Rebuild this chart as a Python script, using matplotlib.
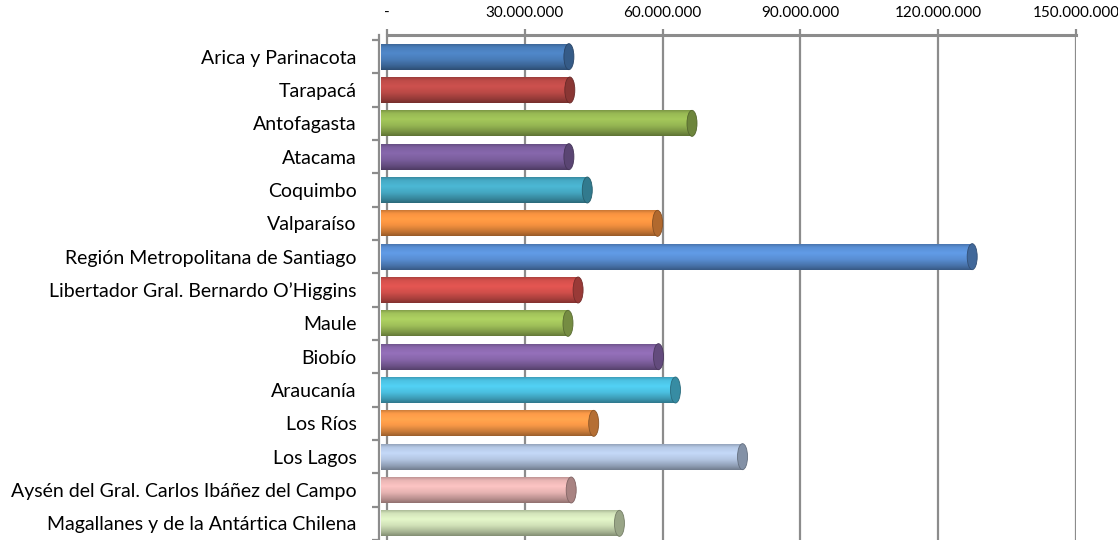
import matplotlib
matplotlib.use('Agg')
import matplotlib.pyplot as plt
import numpy as np
from matplotlib.colors import to_rgb
from matplotlib.patches import Ellipse
from matplotlib.ticker import FixedLocator, FuncFormatter

plt.rcParams['font.family'] = ['Lato', 'DejaVu Sans']

regions = ['Arica y Parinacota', 'Tarapacá', 'Antofagasta', 'Atacama', 'Coquimbo',
           'Valparaíso', 'Región Metropolitana de Santiago',
           'Libertador Gral. Bernardo O\u2019Higgins', 'Maule', 'Biobío', 'Araucanía',
           'Los Ríos', 'Los Lagos', 'Aysén del Gral. Carlos Ibáñez del Campo',
           'Magallanes y de la Antártica Chilena']
values = [39.6e6, 39.8e6, 66.4e6, 39.6e6, 43.6e6, 58.9e6, 127.4e6, 41.6e6,
          39.4e6, 59.1e6, 62.8e6, 45.0e6, 77.4e6, 40.1e6, 50.6e6]
colors = ['#4a7ebb', '#be4b48', '#98b954', '#7d60a0', '#46aac5', '#f69240',
          '#5a90d6', '#d4504c', '#a2c35b', '#8a68ad', '#4cc2e3', '#fb9a48',
          '#b6c9e6', '#eab6b5', '#d4e5bb']
xticks = [0, 30e6, 60e6, 90e6, 120e6, 150e6]

W, H = 1118, 540
fig = plt.figure(figsize=(W / 100, H / 100), dpi=100)
ax = fig.add_axes([379 / W, 0, (1076 - 379) / W, (540 - 35) / H])

px_per_val = (1076 - 387) / 150e6
x_left = -(387 - 379) / px_per_val
row_px = 33.33
h = 0.78
cap_w = 10 / px_per_val
x0 = x_left * 0.7   # 3d look: bars sit slightly in front of the back wall

# shading profile across the cylinder (top -> bottom)
tt = np.linspace(0, 1, 60)
shade = np.interp(tt, [0, 0.12, 0.35, 0.6, 0.85, 1.0], [0.82, 1.0, 1.08, 0.98, 0.78, 0.62])

for i, (v, c) in enumerate(zip(values, colors)):
    base = np.array(to_rgb(c))
    img = np.clip(base[None, :] * shade[:, None], 0, 1)
    img = img[:, None, :]
    ax.imshow(img, extent=(x0, v, i + h / 2, i - h / 2), aspect='auto',
              interpolation='bilinear', zorder=3)
    dark = np.clip(base * 0.72, 0, 1)
    ax.add_patch(Ellipse((v, i), cap_w, h, facecolor=dark,
                         edgecolor=np.clip(base * 0.55, 0, 1), lw=0.6, zorder=4))

ax.set_xlim(x_left, 150e6)
ax.set_ylim(len(regions) - 0.5, -0.5 - 5 / row_px)

# gridlines
for xv in xticks:
    ax.axvline(xv, color='#8c8c8c', lw=1.6, zorder=1)
ax.axhline(-0.5 - 5 / row_px, xmin=(0 - x_left) / (150e6 - x_left), xmax=1,
           color='#8c8c8c', lw=2.2, zorder=1, clip_on=False)

for s in ['right', 'bottom', 'top']:
    ax.spines[s].set_visible(False)
ax.spines['left'].set_color('#8c8c8c')
ax.spines['left'].set_linewidth(1.6)

ax.xaxis.tick_top()
ax.xaxis.set_major_locator(FixedLocator(xticks))
ax.xaxis.set_major_formatter(FuncFormatter(
    lambda x, p: '-' if x == 0 else f'{int(round(x)):,}'.replace(',', '.')))
ax.tick_params(axis='x', top=True, length=4, width=1.6, color='#8c8c8c',
               labelsize=11, pad=7, labelcolor='#000000')

ax.set_yticks(range(len(regions)))
ax.set_yticklabels(regions)
ax.set_yticks(np.arange(-0.5, len(regions), 1), minor=True)
ax.tick_params(axis='y', which='major', length=0, labelsize=14, pad=16)
ax.tick_params(axis='y', which='minor', length=5, width=1.6, color='#8c8c8c')

fig.savefig('out.png', dpi=100)
